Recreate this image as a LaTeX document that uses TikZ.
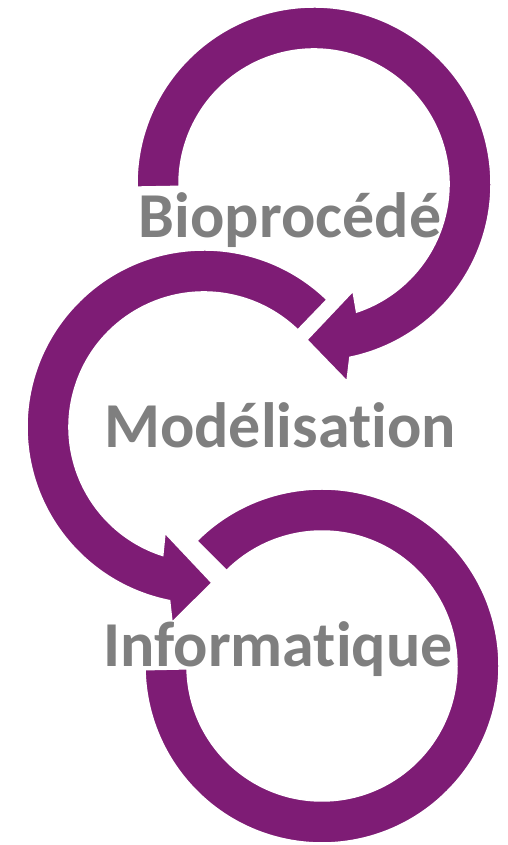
\documentclass[tikz,border=0pt]{standalone}
\usepackage{fontspec}
\setmainfont{Carlito}[Ligatures=NoCommon]
\definecolor{loopviolet}{RGB}{126,28,117}
\definecolor{stagegrey}{RGB}{127,127,127}

\begin{document}
\begin{tikzpicture}[x=1pt,y=1pt]

\tikzset{ring/.style = {fill=loopviolet, draw=white, line width=1.5pt}}
\tikzset{stage/.style = {anchor=base, inner sep=0pt, text=stagegrey, font=\fontsize{64}{70}\selectfont\bfseries}}

\useasboundingbox (0,0) rectangle (508,845);

\coordinate (ctop) at (314,661);
\coordinate (cmid) at (204,418);
\coordinate (cbot) at (322,179);

%loops
\begin{scope}[shift={(ctop)}]
\path[ring] (181:177) arc[start angle=181, end angle=-78.3, radius=177]
  -- (-80.5:200) -- (-92.6:156) -- (-70:114) -- (-71.6:135)
  arc[start angle=-71.6, end angle=181, radius=135] -- cycle;
\end{scope}
\begin{scope}[shift={(cmid)}]
\path[ring] (46:177) arc[start angle=46, end angle=258.8, radius=177]
  -- (260.7:198) -- (272.9:156) -- (249.8:113) -- (252.2:135)
  arc[start angle=252.2, end angle=46, radius=135] -- cycle;
\end{scope}
\begin{scope}[shift={(cbot)}]
\path[ring] (135:177) arc[start angle=135, end angle=-178.8, radius=177]
  -- (181.2:135) arc[start angle=-178.8, end angle=135, radius=135] -- cycle;
\end{scope}

%stages
\node[stage] (bio) at (290,607) {Bioprocédé};
\node[stage] (mod) at (280,397) {Modélisation};
\node[stage] (info) at (278,178) {Informatique};

\end{tikzpicture}
\end{document}
